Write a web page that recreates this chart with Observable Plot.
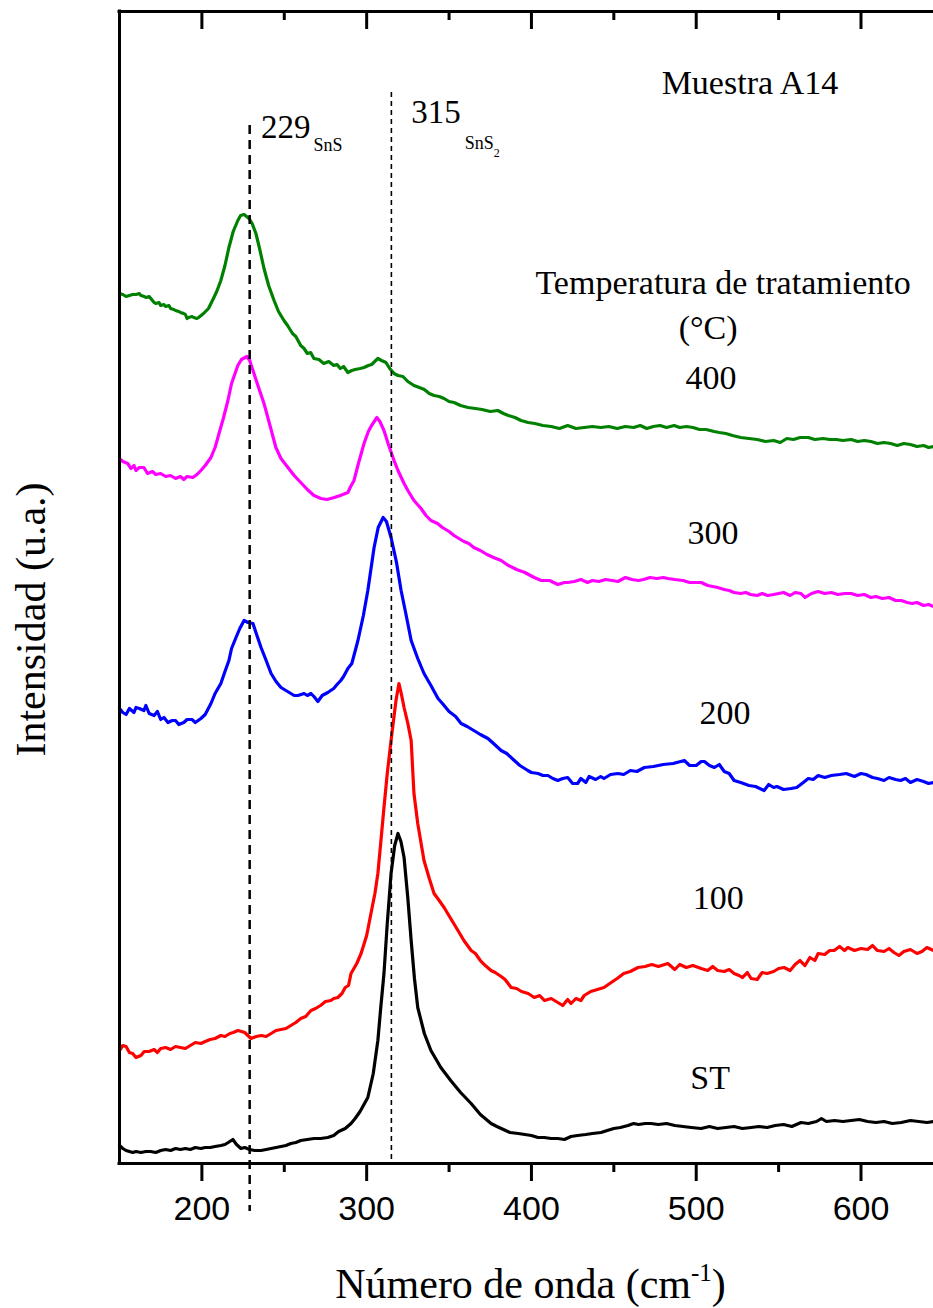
<!DOCTYPE html>
<html>
<head>
<meta charset="utf-8">
<script src="https://cdn.jsdelivr.net/npm/d3@7"></script>
<script src="https://cdn.jsdelivr.net/npm/@observablehq/plot@0.6"></script>
<style>
  html, body { margin: 0; padding: 0; background: #fff; }
</style>
</head>
<body>
<script>
// ---------- data (wavenumber cm^-1, intensity a.u.) ----------
const seriesNames = ["ST", "100", "200", "300", "400"];
const seriesColors = ["#000000", "#ff0000", "#0000ff", "#ff00ff", "#008000"];

const specST = [[150,18],[152,15],[154,13],[156,12],[158,11],[160,12],[163,11],[166,12],[169,12],[172,11],[175,13],[178,14],[181,13],[184,15],[187,14],[190,15],[193,14],[196,16],[199.4,15],[202,16],[205,16],[208,17],[211.5,18],[214,19],[216,21],[218.8,24],[221,19],[223.7,15],[226,16],[229,14],[232,13],[235.9,13],[239,14],[242,15],[245,16],[248,17],[251,18],[254,20],[257,21],[260,23],[264,24],[268,25],[272,25],[276.4,26],[280,28],[283,32],[287,35],[290.5,40],[293,45],[296,52],[300.7,66],[304,90],[306.8,123],[308.5,155],[310.5,190],[312.5,240],[314.8,290],[317,318],[319,330],[320.8,322],[322.7,306],[325,265],[327,223],[329,185],[331,156],[335,130],[339,113],[345,96],[351,83],[357,71],[363.4,60],[369,49],[375.5,40],[379,37],[383,34],[387,31],[392,30],[396,29],[400,28],[404,26],[407.7,26],[412,25],[416,25],[420,24],[424,27],[428,28],[433,29],[437,30],[442.2,31],[446,33],[450,35],[454,36],[458.6,38],[462,40],[465,39],[469,40],[472.6,40],[477,39],[482,40],[487,38],[492,37],[497,36],[503,35],[508,37],[513,35],[518,36],[523,37],[528,35],[533.3,36],[538,37],[543,36],[548,38],[553,39],[558,37],[563.6,41],[568,40],[573,42],[576,45],[579,42],[584,43],[589,42],[594,43],[599,44],[604,42],[609,41],[614,42],[619,40],[624.4,41],[630,43],[635,42],[640,41],[644,42]];

const spec100 = [[150,113],[152,118],[154,117],[156,111],[158,110],[160,106],[163,108],[165,112],[168,112],[171,114],[173,111],[175,115],[178,116],[181,114],[184,117],[187,116],[190,115],[193,118],[196,121],[199.4,120],[202,122],[205,124],[208,125],[211.5,128],[214,127],[217,130],[219,131],[221.9,133],[224,132],[226,131],[229.8,125],[233,127],[236,128],[239,127],[242,130],[245,133],[248,134],[251,135],[254,138],[257,141],[260,145],[263,147],[266.2,153],[269,155],[272,158],[275,162],[278.3,163],[280,165],[282.5,166],[285,170],[287,176],[289,178],[290.5,190],[294,200],[296.6,210],[300,228],[302.6,250],[305,270],[306.8,290],[308.5,320],[310.5,356],[312.5,390],[314.8,423],[317.8,463],[319.6,480],[321,470],[322.7,456],[325,440],[327,423],[328.7,370],[331,340],[334.8,303],[338,285],[340.9,270],[344,263],[347,256],[351,245],[355.4,233],[359,223],[363.4,213],[366,210],[369,203],[372,198],[375.5,193],[378,191],[381.6,187],[384,184],[387.7,176],[391,175],[394,172],[398,170],[401.7,166],[405,168],[408,163],[412,165],[416,161],[419,158],[422,164],[424,160],[427,165],[430,163],[432,168],[436,172],[440,174],[444,176],[448.4,181],[452,185],[456,190],[460,192],[464.7,196],[469,197],[473,199],[477,197],[482.8,200],[487,194],[490,199],[494,196],[498,198],[503,195],[507,193],[510,197],[513,193],[517,192],[520,194],[523,190],[526,188],[528,186],[531,191],[533.3,185],[537,184],[540,191],[543,190],[547,192],[550,195],[553.3,196],[557,193],[560,199],[563,203],[566,198],[569,206],[572,203],[574,210],[578,209],[581,213],[583.7,213],[587,217],[590,213],[592,216],[596,213],[600,215],[604,214],[607,218],[610,213],[614,212],[617,215],[620,211],[623,208],[626,212],[630,214],[634,210],[637,212],[640,216],[644,213]];

const spec200 = [[150,455],[152,451],[154,449],[156,455],[158.8,451],[160,456],[162,455],[164.8,453],[166,458],[168,450],[171,448],[173,452],[175,444],[177,446],[179.4,441],[182,443],[184,443],[186,439],[189,441],[191,444],[194,444],[196,441],[199.4,445],[202,449],[205.5,460],[208,470],[211.5,480],[214,492],[216.4,503],[218,515],[220.7,526],[223,535],[225.6,543],[228,541],[231,540],[233,530],[235.9,516],[239,503],[242,490],[245,482],[248,476],[250,474],[253,471],[256,468],[258.3,468],[262,470],[264,468],[266.2,470],[268,467],[270.4,462],[273,468],[276.4,471],[280,475],[282,479],[284.3,483],[286,487],[288.6,495],[291,500],[294.7,523],[298,548],[300.7,573],[304.5,616],[307,636],[310,646],[312,642],[314.8,626],[318,602],[320.9,573],[324,548],[327,523],[331,505],[334.8,490],[339,478],[343.3,465],[346,460],[350,452],[354,447],[357.3,440],[361,437],[365,433],[369,429],[373.6,425],[377,420],[381.6,413],[385,410],[389.6,403],[393,398],[397.8,393],[400,391],[404,390],[407,388],[410,388],[413,385],[416,383],[419,385],[422,386],[425,380],[428,380],[430,385],[433,381],[435,387],[439,384],[442,387],[444,385],[448,389],[452.5,390],[456,389],[460,393],[464,392],[468.5,396],[474,397],[480,399],[486,400],[492.8,403],[496,398],[500,398],[503,402],[505,402],[508,398],[511,396],[514,399],[517,392],[520,390],[523,383],[527,381],[532,378],[536,377],[541.2,373],[544,379],[547,376],[549,377],[553,374],[557.6,375],[561,376],[565,381],[568,385],[571,384],[574,388],[578,386],[582,388],[587,389],[591,390],[596,387],[600,390],[603,389],[607,386],[610,385],[614,383],[617,386],[621,384],[624,383],[627,385],[630,381],[634,384],[638,382],[641,380],[644,381]];

const spec300 = [[150,705],[152,702],[155,700],[157,695],[158.8,698],[160,693],[162,696],[164.8,696],[167,690],[170,692],[172,689],[175,690],[178,687],[181,688],[184,685],[187,687],[189,684],[191,687],[194.5,686],[197,689],[199.4,693],[202,698],[205.5,706],[208,716],[210.4,730],[213,745],[215.8,763],[218,780],[221.8,798],[224,804],[227.3,807],[229,803],[231.6,790],[234,778],[237.7,760],[241,740],[244.9,716],[248,705],[252.2,696],[256,688],[260,681],[264,674],[268,668],[272.3,665],[276,664],[280.3,666],[284,668],[288.6,671],[290,676],[292.3,683],[295,700],[298.4,720],[301,732],[303,738],[306.2,746],[308,742],[310.5,733],[313,720],[316.6,703],[319,693],[322.7,680],[325,673],[328.7,663],[333,655],[336,648],[339,643],[343,640],[346,636],[350,632],[353,628],[356,625],[359,622],[362,620],[365,616],[369,613],[373,609],[377,606],[381.6,603],[386,598],[391,594],[396,591],[401.7,586],[406,583],[411,583],[416,579],[420,581],[422,581],[426,582],[430,584],[434,581],[437,583],[441,582],[445,584],[449,583],[452.5,582],[457,586],[461,584],[465,583],[468,584],[472,586],[476,585],[480,586],[482.8,585],[487,584],[492,583],[496,581],[500,581],[503,581],[507,578],[510,577],[513,576],[517,574],[520,573],[523,571],[527,570],[530,571],[533,569],[537,568],[540,570],[543.4,568],[547,569],[550,570],[553,571],[557,568],[560,571],[563.6,570],[566,566],[570,570],[574,572],[578,570],[582,571],[586,569],[590,570],[594,570],[598,568],[602,569],[606,566],[609,567],[613,565],[617,566],[621,563],[624.4,563],[628,561],[631,560],[634,561],[638,558],[641,559],[644,557]];

const spec400 = [[150,870],[152,869],[154,867],[156,868],[158,869],[160,869],[162,870],[163,868],[165,867],[166,866],[168,867],[169,865],[171,861],[172,860],[174,861],[175,858],[177,859],[178,857],[180,858],[181,855],[183,854],[184,853],[186,852],[187,851],[189,850],[190,849],[191,845],[192,846],[194,847],[195,846],[197,845],[198,846],[201,850],[204,855],[207,865],[209,872],[211.5,883],[214,898],[216.4,916],[219,932],[221.8,943],[223.5,948],[225.6,949],[228.6,945],[230.5,940],[232.8,930],[235,915],[237.7,895],[240.5,878],[243.8,863],[246.5,852],[249.8,843],[252,838],[255,830],[257,827],[260,818],[262,815],[264,810],[266,811],[268,805],[271,804],[274,800],[277,802],[280,798],[282,799],[284,795],[286,797],[288.6,791],[291,793],[293,794],[296,795],[298.4,796],[301,798],[303,799],[306.8,805],[309,803],[311.7,801],[314,795],[316.6,790],[319,788],[322,787],[325,782],[328.7,778],[332,776],[335,774],[338,770],[340.9,768],[344,767],[347,765],[350,762],[353,761],[357,758],[361.5,756],[366,755],[370,754],[375,752],[379.6,753],[383,750],[386,748],[390,746],[393.7,743],[398,741],[402,740],[407,738],[412,737],[417,735],[422,738],[427,735],[432,736],[437,737],[442,736],[447,737],[452,735],[457,737],[462,736],[466,738],[470,735],[474,737],[478,738],[482,736],[486.6,738],[490,736],[494,737],[498,736],[502,734],[506,734],[510.9,732],[514,731],[518,730],[522,728],[527,726],[532,725],[537,724],[542,722],[547,723],[551,721],[555,725],[559,724],[563,726],[568,726],[572,724],[577,725],[581,724],[585,724],[589,723],[594,724],[598,722],[602,723],[606,722],[610,720],[614,721],[618,720],[622,718],[626,720],[630,719],[634,717],[638,718],[641,716],[644,717]];

const spectra = [specST, spec100, spec200, spec300, spec400];

const xDomain = [150, 644];
const yDomain = [0, 1152];
const majorTicks = [200, 300, 400, 500, 600];
const minorTicks = [250, 350, 450, 550];

// reference lines (peak positions) and their extents in intensity units
const refPeaks = [229, 315];
const refTop = [1038, 1071];
const refBottom = [-48, 0];

// peak annotations (anchor in data units)
const peakText = ["229SnS", "315SnS2"];
const peakX = [235.9, 327];
const peakY = [1026, 1041];

// curve labels and notes
const noteText = ["Muestra A14", "Temperatura de tratamiento", "(°C)", "400", "300", "200", "100", "ST"];
const noteX = [532.6, 516.3, 507.2, 509, 510.2, 517.5, 513.3, 508.4];
const noteY = [1070, 870, 825, 775, 620, 440, 255, 75];

const xTitle = "Número de onda (cm-1)";
const yTitle = "Intensidad (u.a.)";

// ---------- build ----------
const rows = [];
spectra.forEach((s, i) => s.forEach(([x, y]) => rows.push({series: seriesNames[i], x, y})));
const refRows = refPeaks.map((x, i) => ({x, y1: refTop[i], y2: refBottom[i]}));
const peakRows = peakText.map((t, i) => ({t, x: peakX[i], y: peakY[i]}));
const noteRows = noteText.map((t, i) => ({t, x: noteX[i], y: noteY[i]}));

const serif = "'Liberation Serif', 'Times New Roman', Times, serif";
const sans = "'Liberation Sans', Arial, Helvetica, sans-serif";
const frameH = 1152; // pixel height of the plotting frame (1163 - 11)

const svg = Plot.plot({
  width: 933,
  height: 1308,
  marginLeft: 119,
  marginRight: 0,
  marginTop: 11,
  marginBottom: 145,
  x: {domain: xDomain},
  y: {domain: yDomain, axis: null},
  color: {domain: seriesNames, range: seriesColors},
  style: {background: "#fff", color: "#000"},
  marks: [
    Plot.line(rows, {x: "x", y: "y", z: "series", stroke: "series", strokeWidth: 3.2, strokeLinejoin: "round", strokeLinecap: "round"}),
    Plot.ruleX(refRows.slice(0, 1), {x: "x", y1: "y1", y2: "y2", stroke: "#000", strokeWidth: 2.5, strokeDasharray: "9,6"}),
    Plot.ruleX(refRows.slice(1), {x: "x", y1: "y1", y2: "y2", stroke: "#000", strokeWidth: 1.6, strokeDasharray: "5,4"}),
    // frame lines (left, bottom, top)
    Plot.ruleY([yDomain[0], yDomain[1]], {stroke: "#000", strokeWidth: 3, strokeLinecap: "square"}),
    Plot.ruleX([xDomain[0]], {stroke: "#000", strokeWidth: 3, strokeLinecap: "square"}),
    // bottom axis
    Plot.axisX(majorTicks, {anchor: "bottom", tickSize: 18, tickPadding: 14, strokeWidth: 3, stroke: "#000", fill: "#000", fontSize: 34, fontFamily: sans, label: null, tickFormat: d => String(d)}),
    Plot.axisX(minorTicks, {anchor: "bottom", tickSize: 9, strokeWidth: 3, stroke: "#000", fill: null, label: null}),
    // top axis: inward ticks (bottom-style ticks shifted up to the top edge)
    Plot.axisX(majorTicks, {anchor: "bottom", dy: -frameH, tickSize: 18, strokeWidth: 3, stroke: "#000", fill: null, label: null}),
    Plot.axisX(minorTicks, {anchor: "bottom", dy: -frameH, tickSize: 9, strokeWidth: 3, stroke: "#000", fill: null, label: null}),
    // annotations
    Plot.text(peakRows, {x: "x", y: "y", text: "t", textAnchor: "start", lineAnchor: "bottom", fontSize: 33, fontFamily: serif, fill: "#000"}),
    Plot.text(noteRows, {x: "x", y: "y", text: "t", textAnchor: "middle", lineAnchor: "bottom", fontSize: 34, fontFamily: serif, fill: "#000"}),
    // axis titles
    Plot.text([xTitle], {frameAnchor: "bottom", lineAnchor: "bottom", dx: 4, dy: 134, fontSize: 42, fontFamily: serif, fill: "#000"}),
    Plot.text([yTitle], {x: () => xDomain[0], y: () => (yDomain[0] + yDomain[1]) / 2 - 32, rotate: -90, textAnchor: "middle", lineAnchor: "bottom", dx: -75, fontSize: 42, fontFamily: serif, fill: "#000"})
  ]
});

// rich text (subscripts / superscripts) as real tspans
const rich = {
  "229SnS": [{t: "229", s: 33}, {t: "SnS", s: 18, dx: 3, dy: 13}],
  "315SnS2": [{t: "315", s: 33}, {t: "SnS", s: 18, dx: 4, dy: 26}, {t: "2", s: 12, dy: 8}],
  "Número de onda (cm-1)": [{t: "Número de onda (cm", s: 42}, {t: "-1", s: 25, dy: -17}, {t: ")", s: 42, dy: 17}]
};
d3.select(svg).selectAll("text").each(function () {
  const parts = rich[this.textContent];
  if (!parts) return;
  const sel = d3.select(this);
  sel.text(null);
  parts.forEach(p => {
    const ts = sel.append("tspan").attr("font-size", p.s).text(p.t);
    if (p.dx) ts.attr("dx", p.dx);
    if (p.dy) ts.attr("dy", p.dy);
  });
});

document.body.appendChild(svg);
</script>
</body>
</html>
